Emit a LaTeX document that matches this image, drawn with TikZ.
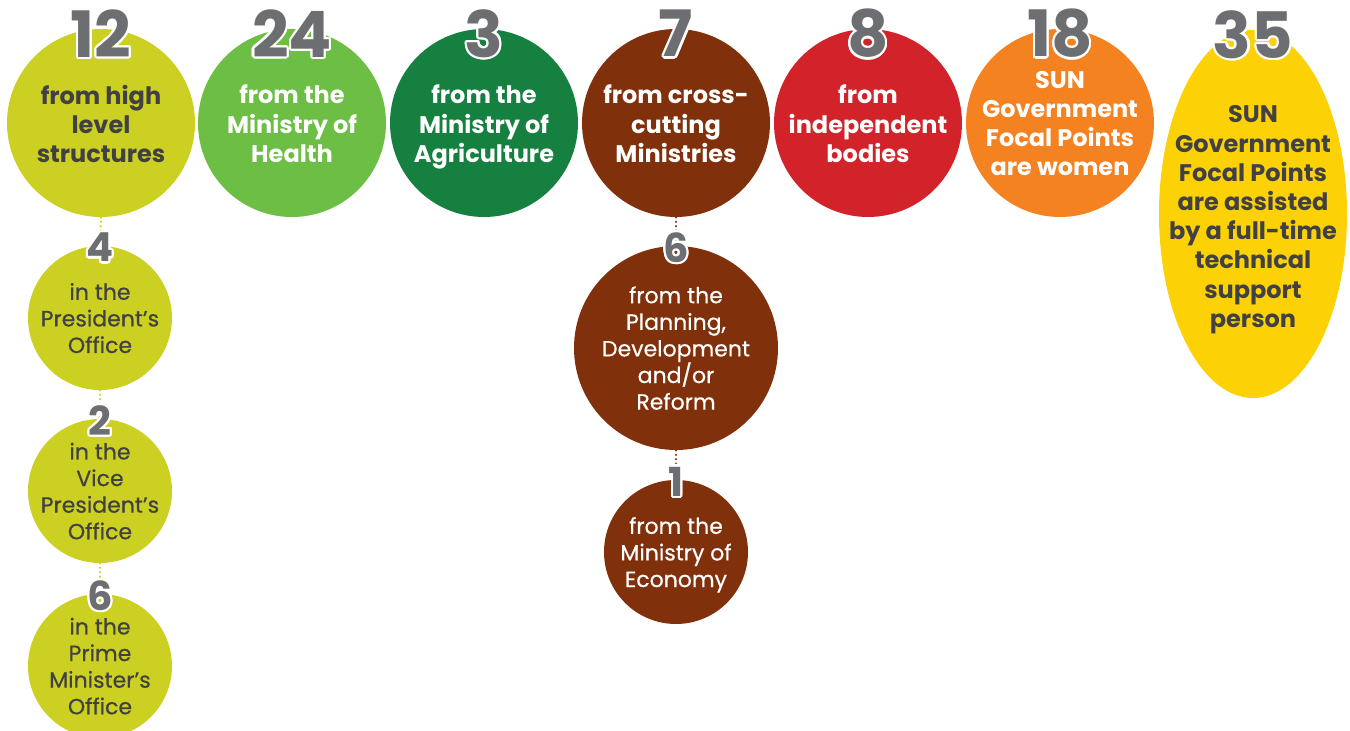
\documentclass[tikz,border=0pt]{standalone}
\usepackage{fontspec}
\setmainfont{Poppins}
\newfontfamily\medfont{Poppins}[FakeBold=0.5]
\usepackage{contour}
\contourlength{1.1pt}
\usetikzlibrary{shapes.geometric}
\definecolor{hlsgreen}{HTML}{CBD022}
\definecolor{healthgreen}{HTML}{6CBE45}
\definecolor{agrigreen}{HTML}{168040}
\definecolor{crossbrown}{HTML}{80300B}
\definecolor{indepred}{HTML}{D2232A}
\definecolor{womenorange}{HTML}{F58220}
\definecolor{supportyellow}{HTML}{FCD106}
\definecolor{textdark}{HTML}{414042}
\definecolor{numgray}{HTML}{6D6E71}

\begin{document}
\begin{tikzpicture}[
    x=0.5pt, y=-0.5pt,
    group node/.style={circle,minimum size=94pt,inner sep=0pt},
    sub node/.style={circle,minimum size=72pt,inner sep=0pt},
    group text/.style={inner sep=0pt,align=center,text=white,yshift=-2.5pt,
      font=\bfseries\fontsize{12}{14.6}\selectfont,
      execute at begin node=\strut,execute at end node=\strut},
    sub text/.style={inner sep=0pt,align=center,text=textdark,yshift=-2pt,
      font=\medfont\fontsize{11}{13.3}\selectfont,
      execute at begin node=\strut,execute at end node=\strut},
    big number/.style={text=numgray,inner sep=0pt,yshift=-3pt,
      font=\bfseries\fontsize{32}{32}\selectfont},
    small number/.style={text=numgray,inner sep=0pt,yshift=-1.5pt,
      font=\bfseries\fontsize{20}{20}\selectfont},
    link/.style={line width=1.2pt,line cap=round,dash pattern=on 0pt off 2.2pt}]

  \useasboundingbox (0,0) rectangle (1350,731);
  \clip (0,0) rectangle (1350,731);

  % top row
  \node[group node,fill=hlsgreen] (hls) at (101,123) {};
  \node[group node,fill=healthgreen] (health) at (292,123) {};
  \node[group node,fill=agrigreen] (agri) at (484,123) {};
  \node[group node,fill=crossbrown] (cross) at (676,123) {};
  \node[group node,fill=indepred] (indep) at (868,123) {};
  \node[group node,fill=womenorange] (women) at (1060,123) {};
  \node[ellipse,minimum width=94pt,minimum height=184pt,inner sep=0pt,
    fill=supportyellow] (support) at (1253,214) {};

  \node[group text,text=textdark] (hls-text) at (hls) {from high\\level\\structures};
  \node[group text] (health-text) at (health) {from the\\Ministry of\\Health};
  \node[group text] (agri-text) at (agri) {from the\\Ministry of\\Agriculture};
  \node[group text] (cross-text) at (cross) {from cross-\\cutting\\Ministries};
  \node[group text] (indep-text) at (indep) {from\\independent\\bodies};
  \node[group text] (women-text) at (women) {SUN\\Government\\Focal Points\\are women};
  \node[group text,text=textdark,yshift=-1pt] (support-text) at (support)
    {SUN\\Government\\Focal Points\\are assisted\\by a full-time\\technical\\support\\person};

  % high level structures
  \node[sub node,fill=hlsgreen] (pres) at (100,318) {};
  \node[sub node,fill=hlsgreen] (vice) at (100,491) {};
  \node[sub node,fill=hlsgreen] (prime) at (100,666) {};
  \node[sub text] (pres-text) at (pres) {in the\\President’s\\Office};
  \node[sub text] (vice-text) at (vice) {in the\\Vice\\President’s\\Office};
  \node[sub text] (prime-text) at (prime) {in the\\Prime\\Minister’s\\Office};

  % cross-cutting ministries
  \node[sub node,minimum size=102pt,fill=crossbrown] (plan) at (676,348) {};
  \node[sub node,fill=crossbrown] (econ) at (676,552) {};
  \node[sub text,text=white] (plan-text) at (plan)
    {from the\\Planning,\\Development\\and/or\\Reform};
  \node[sub text,text=white] (econ-text) at (econ) {from the\\Ministry of\\Economy};

  \draw[link,hlsgreen] (hls.south) -- (pres.north);
  \draw[link,hlsgreen] (pres.south) -- (vice.north);
  \draw[link,hlsgreen] (vice.south) -- (prime.north);
  \draw[link,crossbrown] (cross.south) -- (plan.north);
  \draw[link,crossbrown] (plan.south) -- (econ.north);

  % numbers
  \node[big number] (n-hls) at (hls.north) {\contour{white}{12}};
  \node[big number] (n-health) at (health.north) {\contour{white}{24}};
  \node[big number] (n-agri) at (agri.north) {\contour{white}{3}};
  \node[big number] (n-cross) at (cross.north) {\contour{white}{7}};
  \node[big number] (n-indep) at (indep.north) {\contour{white}{8}};
  \node[big number] (n-women) at (women.north) {\contour{white}{18}};
  \node[big number] (n-support) at (support.north) {\contour{white}{35}};
  \node[small number] (n-pres) at (pres.north) {\contour{white}{4}};
  \node[small number] (n-vice) at (vice.north) {\contour{white}{2}};
  \node[small number] (n-prime) at (prime.north) {\contour{white}{6}};
  \node[small number] (n-plan) at (plan.north) {\contour{white}{6}};
  \node[small number] (n-econ) at (econ.north) {\contour{white}{1}};
\end{tikzpicture}
\end{document}
